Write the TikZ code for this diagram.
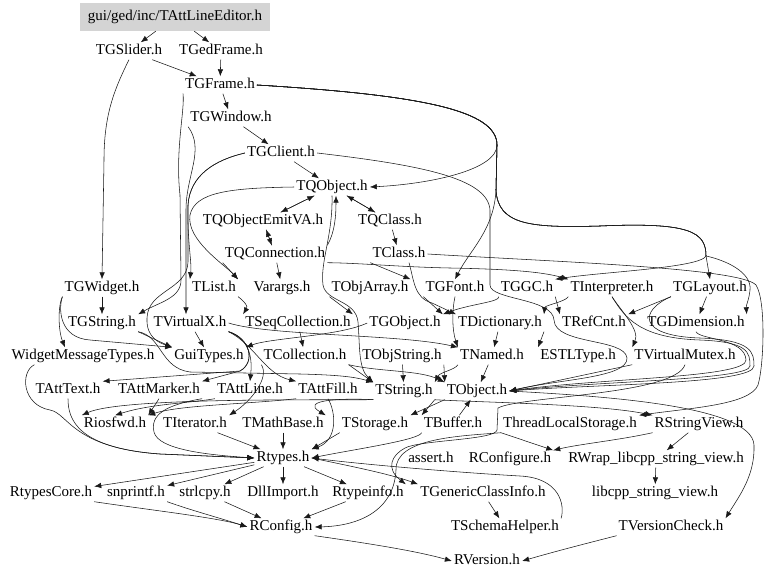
\documentclass[tikz,border=0pt]{standalone}
\usepackage{fontspec}
\setmainfont{Liberation Serif}
\usetikzlibrary{arrows.meta}
\definecolor{rootfill}{gray}{0.83}
\tikzset{>={Latex[length=7pt,width=5.5pt]}, x=1pt, y=-1pt, font=\fontsize{15}{15}\selectfont}
\tikzstyle{file} = [inner sep=2pt, text height=10pt, text depth=3pt]
\tikzstyle{root} = [file, fill=rootfill, minimum width=190pt, minimum height=28pt]
\tikzstyle{dep} = [->, line width=0.55pt, black!90]

\begin{document}
\begin{tikzpicture}
    \useasboundingbox (0,0) rectangle (768,578);
    % files, row by row
    \node [root] (editor) at (175,17) {gui/ged/inc/TAttLineEditor.h};
    \node [file] (slider) at (129,51) {TGSlider.h};
    \node [file] (gedframe) at (221,51) {TGedFrame.h};
    \node [file] (gframe) at (220,85) {TGFrame.h};
    \node [file] (gwindow) at (231,118) {TGWindow.h};
    \node [file] (gclient) at (281,153) {TGClient.h};
    \node [file] (qobject) at (332,187) {TQObject.h};
    \node [file] (emitva) at (263,221) {TQObjectEmitVA.h};
    \node [file] (qclass) at (390,221) {TQClass.h};
    \node [file] (qconn) at (275,254) {TQConnection.h};
    \node [file] (tclass) at (399,254) {TClass.h};
    \node [file] (gwidget) at (102,288) {TGWidget.h};
    \node [file] (tlist) at (214,288) {TList.h};
    \node [file] (varargs) at (282,288) {Varargs.h};
    \node [file] (objarray) at (370,288) {TObjArray.h};
    \node [file] (gfont) at (455,288) {TGFont.h};
    \node [file] (ggc) at (527,288) {TGGC.h};
    \node [file] (interp) at (612,288) {TInterpreter.h};
    \node [file] (glayout) at (710,288) {TGLayout.h};
    \node [file] (gstring) at (102,323) {TGString.h};
    \node [file] (virtualx) at (190,323) {TVirtualX.h};
    \node [file] (seqcoll) at (298,323) {TSeqCollection.h};
    \node [file] (gobject) at (405,323) {TGObject.h};
    \node [file] (dict) at (500,323) {TDictionary.h};
    \node [file] (refcnt) at (594,323) {TRefCnt.h};
    \node [file] (gdim) at (696,323) {TGDimension.h};
    \node [file] (wmtypes) at (83,356) {WidgetMessageTypes.h};
    \node [file] (guitypes) at (209,356) {GuiTypes.h};
    \node [file] (collection) at (305,356) {TCollection.h};
    \node [file] (objstring) at (402,356) {TObjString.h};
    \node [file] (named) at (492,356) {TNamed.h};
    \node [file] (estl) at (578,356) {ESTLType.h};
    \node [file] (vmutex) at (685,356) {TVirtualMutex.h};
    \node [file] (atttext) at (68,390) {TAttText.h};
    \node [file] (attmarker) at (159,390) {TAttMarker.h};
    \node [file] (attline) at (250,390) {TAttLine.h};
    \node [file] (attfill) at (328,390) {TAttFill.h};
    \node [file] (tstring) at (404,391) {TString.h};
    \node [file] (tobject) at (477,391) {TObject.h};
    \node [file] (riosfwd) at (115,424) {Riosfwd.h};
    \node [file] (iterator) at (195,424) {TIterator.h};
    \node [file] (mathbase) at (283,424) {TMathBase.h};
    \node [file] (storage) at (375,424) {TStorage.h};
    \node [file] (buffer) at (453,424) {TBuffer.h};
    \node [file] (tls) at (570,424) {ThreadLocalStorage.h};
    \node [file] (stringview) at (699,424) {RStringView.h};
    \node [file] (rtypes) at (283,458) {Rtypes.h};
    \node [file] (assert) at (431,459) {assert.h};
    \node [file] (rconfigure) at (510,459) {RConfigure.h};
    \node [file] (rwrap) at (656,459) {RWrap\_libcpp\_string\_view.h};
    \node [file] (rtypescore) at (51,493) {RtypesCore.h};
    \node [file] (snprintf) at (136,493) {snprintf.h};
    \node [file] (strlcpy) at (205,493) {strlcpy.h};
    \node [file] (dllimport) at (283,493) {DllImport.h};
    \node [file] (rtypeinfo) at (368,493) {Rtypeinfo.h};
    \node [file] (genclass) at (483,493) {TGenericClassInfo.h};
    \node [file] (libcpp) at (655,493) {libcpp\_string\_view.h};
    \node [file] (rconfig) at (281,527) {RConfig.h};
    \node [file] (schema) at (505,527) {TSchemaHelper.h};
    \node [file] (versioncheck) at (671,527) {TVersionCheck.h};
    \node [file] (rversion) at (487,561) {RVersion.h};

    % gui part
    \draw [dep] (editor) -- (slider);
    \draw [dep] (editor) -- (gedframe);
    \draw [dep] (slider) -- (gframe);
    \draw [dep] (gedframe) -- (gframe);
    \draw [dep] (slider.south) .. controls (114,90) and (104,115) .. (104,160) -- (gwidget.north);
    \draw [dep] (gframe) -- (gwindow);
    \draw [dep] (gwindow) -- (gclient);
    \draw [dep] (gclient) -- (qobject);
    \draw [dep] (gframe.east) .. controls (420,95) and (497,110) .. (497,145) .. controls (497,170) and (430,184) .. (qobject.east);
    \draw [dep] (gframe.east) .. controls (420,95) and (497,110) .. (497,145) -- (496,190) .. controls (494,230) and (470,250) .. (gfont.north);
    \draw [dep] (gframe.east) .. controls (420,95) and (497,110) .. (497,145) -- (496,190) .. controls (498,225) and (530,228) .. (600,226) .. controls (690,222) and (706,232) .. (706,256) -- (glayout.north);
    \draw [dep] (gframe.east) .. controls (420,95) and (497,110) .. (497,145) -- (496,190) .. controls (498,225) and (530,228) .. (600,226) .. controls (690,222) and (706,232) .. (706,256) .. controls (700,268) and (600,272) .. (ggc.north east);
    \draw [dep] (gframe.east) .. controls (420,95) and (497,110) .. (497,145) -- (496,190) .. controls (498,225) and (530,228) .. (600,226) .. controls (690,222) and (706,232) .. (706,256) .. controls (725,260) and (752,272) .. (750,290) .. controls (749,300) and (746,305) .. (gdim.north east);
    \draw [dep] (gframe.south west) .. controls (185,110) and (175,150) .. (180,195) -- (181,280) .. controls (181,298) and (160,302) .. (gstring.north east);
    \draw [dep] (gwindow.south west) .. controls (205,150) and (186,175) .. (186,210) -- ([xshift=-4pt]virtualx.north);
    \draw [dep] (gclient.west) .. controls (215,160) and (190,175) .. (188,205) .. controls (187,240) and (192,262) .. (tlist.north west);
    \draw [dep] (gclient.west) .. controls (215,160) and (190,175) .. (188,205) -- (188,262) .. controls (187,290) and (148,290) .. (147,318) .. controls (146,338) and (160,343) .. (guitypes.north west);
    \draw [dep] (gclient.east) .. controls (420,165) and (488,178) .. (490,210) -- (490,285) .. controls (490,300) and (553,298) .. (554,320) .. controls (555,345) and (625,338) .. (627,358) .. controls (628,378) and (560,379) .. (tobject.east);

    % signal/slot part
    \draw [dep] (qobject.west) .. controls (230,188) and (195,192) .. (190,215) .. controls (186,240) and (225,265) .. (tlist.north east);
    \draw [dep] (qobject) -- (emitva);
    \draw [dep] (emitva) -- (qobject);
    \draw [dep] (qobject) -- (qclass);
    \draw [dep] (qclass) -- (qobject);
    \draw [dep] (emitva) -- (qconn);
    \draw [dep] (qconn) -- (emitva);
    \draw [dep] (qconn.north east) .. controls (335,232) and (336,215) .. ([xshift=4pt]qobject.south);
    \draw [dep] (qobject.south) .. controls (333,235) and (320,262) .. (323,285) .. controls (326,302) and (356,300) .. (358,322) .. controls (360,345) and (358,368) .. (tstring.north west);
    \draw [dep] (qconn.south west) -- (tlist.north east);
    \draw [dep] (qconn) -- (varargs);
    \draw [dep] (qconn.south east) .. controls (360,263) and (400,267) .. (450,268) .. controls (500,269) and (540,271) .. (interp.north west);
    \draw [dep] (qclass) -- (tclass);
    \draw [dep] ([xshift=10pt]tclass.south) .. controls (414,280) and (414,298) .. (432,303) -- (dict.north west);
    \draw [dep] (tclass.south west) -- (objarray.north east);
    \draw [dep] (tclass.east) .. controls (560,262) and (740,268) .. (756,285) .. controls (766,300) and (764,365) .. (758,385) .. controls (750,405) and (690,408) .. (tls.north east);

    % widgets and graphics attributes
    \draw [dep] (gwidget) -- (gstring);
    \draw [dep] (gwidget.south west) .. controls (58,305) and (58,330) .. ([xshift=-18pt]wmtypes.north);
    \draw [dep] (gwidget.south west) .. controls (58,310) and (60,338) .. (90,340) -- (guitypes.north west);
    \draw [dep] (gstring.south east) -- (guitypes.north west);
    \draw [dep] (gstring.south east) .. controls (162,336) and (160,368) .. (190,372) -- (300,374) .. controls (340,375) and (355,377) .. (tstring.north west);
    \draw [dep] (virtualx) -- (guitypes);
    \draw [dep] (virtualx.east) .. controls (270,336) and (400,334) .. (named.north west);
    \draw [dep] (virtualx.south east) .. controls (250,338) and (256,362) .. (240,371) -- (atttext.north east);
    \draw [dep] (virtualx.south east) .. controls (250,338) and (256,362) .. (240,371) -- (attmarker.north east);
    \draw [dep] (virtualx.south east) .. controls (252,340) and (252,362) .. (attline.north);
    \draw [dep] (virtualx.south east) .. controls (255,345) and (265,374) .. (attfill.north west);
    \draw [dep] (gobject.west) .. controls (340,336) and (270,338) .. (guitypes.north east);
    \draw [dep] (gfont.south west) -- (gobject.north east);
    \draw [dep] (gfont.south) .. controls (452,310) and (452,330) .. (named.north west);
    \draw [dep] (ggc.south west) .. controls (500,302) and (470,304) .. (gobject.north east);
    \draw [dep] (ggc.south east) -- (refcnt.north west);
    \draw [dep] (glayout.south west) -- (refcnt.north east);
    \draw [dep] (glayout) -- (gdim);
    \draw [dep] (glayout.south west) .. controls (640,310) and (636,336) .. (700,338) .. controls (752,340) and (754,352) .. (754,366) .. controls (754,384) and (600,384) .. (tobject.east);
    \draw [dep] (gdim.south) .. controls (700,340) and (745,338) .. (746,360) .. controls (747,378) and (600,378) .. (tobject.east);

    % core part
    \draw [dep] (interp.south west) .. controls (565,302) and (545,305) .. (dict.north east);
    \draw [dep] (interp.south) .. controls (622,312) and (640,330) .. (vmutex.north west);
    \draw [dep] (interp.south) .. controls (625,318) and (640,338) .. (700,340) .. controls (748,342) and (750,352) .. (750,366) .. controls (750,380) and (600,381) .. (tobject.east);
    \draw [dep] (vmutex.south west) -- (tobject.east);
    \draw [dep] (seqcoll) -- (collection);
    \draw [dep] (tlist.south east) .. controls (245,302) and (248,306) .. (seqcoll.north west);
    \draw [dep] (objarray.south west) -- (seqcoll.north east);
    \draw [dep] (collection.south east) .. controls (380,372) and (420,370) .. (tobject.north west);
    \draw [dep] (collection.south east) -- (tstring.north west);
    \draw [dep] (collection.south west) .. controls (270,378) and (250,402) .. (iterator.north east);
    \draw [dep] (objstring) -- (tstring);
    \draw [dep] (objstring.south east) -- (tobject.north west);
    \draw [dep] (dict) -- (named);
    \draw [dep] (dict.south east) -- (estl.north west);
    \draw [dep] (named) -- (tobject);
    \draw [dep] (named.south west) .. controls (455,370) and (440,372) .. (tstring.north east);
    \draw [dep] (atttext.south) .. controls (68,420) and (78,448) .. (160,454) -- (rtypes.west);
    \draw [dep] ([xshift=25pt]wmtypes.south west) .. controls (20,372) and (22,405) .. (50,410) .. controls (68,413) and (72,448) .. (160,454) -- (rtypes.west);
    \draw [dep] (attmarker.south) -- (riosfwd.north east);
    \draw [dep] (attline.south west) .. controls (190,403) and (150,404) .. (riosfwd.north);
    \draw [dep] (attfill.south west) .. controls (250,404) and (180,405) .. (riosfwd.north east);
    \draw [dep] (tstring.south west) .. controls (300,400) and (120,398) .. (riosfwd.north west);
    \draw [dep] (attmarker.south east) .. controls (165,405) and (150,415) .. (154,432) .. controls (158,450) and (210,455) .. (rtypes.west);
    \draw [dep] (attfill.south) .. controls (336,412) and (338,440) .. (rtypes.north east);
    \draw [dep] (tstring.south west) .. controls (340,398) and (300,400) .. (mathbase.north east);
    \draw [dep] (tstring.south east) .. controls (470,402) and (600,404) .. (stringview.north west);
    \draw [dep] (tstring.south east) -- (buffer.north west);
    \draw [dep] (buffer) -- (tobject);
    \draw [dep] (tobject.south west) -- (storage.north east);
    \draw [dep] (buffer.south west) .. controls (420,440) and (350,450) .. (rtypes.east);
    \draw [dep] (tobject.east) .. controls (600,396) and (752,405) .. (754,445) .. controls (755,475) and (740,495) .. (versioncheck.north east);
    \draw [dep] (storage.south west) -- (rtypes.north east);
    \draw [dep] (iterator) -- (rtypes);
    \draw [dep] (mathbase) -- (rtypes);
    \draw [dep] (tls.south west) -- (rconfigure.north east);
    \draw [dep] (tls.south west) .. controls (460,436) and (395,438) .. (396,470) .. controls (394,510) and (360,526) .. (rconfig.east);
    \draw [dep] (vmutex.south) .. controls (675,395) and (520,396) .. (498,408) -- (497,430) .. controls (496,440) and (420,440) .. (405,448) .. controls (392,455) and (385,468) .. (rtypeinfo.north east);
    \draw [dep] (stringview.south west) .. controls (620,440) and (580,444) .. (rconfigure.north east);
    \draw [dep] (stringview) -- (rwrap);
    \draw [dep] (rwrap) -- (libcpp);

    % base types
    \draw [dep] (rtypes) -- (rtypescore);
    \draw [dep] (rtypes) -- (snprintf);
    \draw [dep] (rtypes) -- (strlcpy);
    \draw [dep] (rtypes) -- (dllimport);
    \draw [dep] (rtypes) -- (rtypeinfo);
    \draw [dep] (rtypes.east) .. controls (350,466) and (390,474) .. (genclass.north west);
    \draw [dep] (genclass) -- (schema);
    \draw [dep] (schema.north east) .. controls (565,505) and (560,478) .. (520,476) .. controls (450,472) and (360,464) .. (rtypes.east);
    \draw [dep] (rtypescore.south east) .. controls (150,510) and (220,518) .. (rconfig.west);
    \draw [dep] (snprintf.south east) .. controls (190,510) and (220,518) .. (rconfig.west);
    \draw [dep] (strlcpy) -- (rconfig);
    \draw [dep] (rtypeinfo) -- (rconfig);
    \draw [dep] (rconfig.south east) .. controls (380,545) and (420,552) .. (rversion.west);
    \draw [dep] (versioncheck.south west) .. controls (600,540) and (560,550) .. (rversion.east);
\end{tikzpicture}
\end{document}
